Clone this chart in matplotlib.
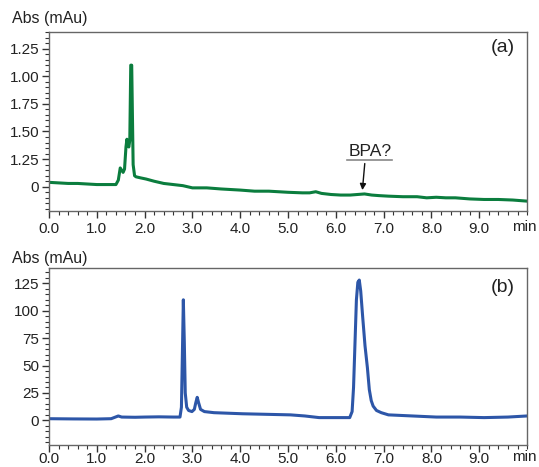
import numpy as np
import matplotlib
matplotlib.use("Agg")
import matplotlib.pyplot as plt
from matplotlib.ticker import MultipleLocator, FixedLocator, FixedFormatter

# ============================
# Data
# ============================
t_a = [0.0, 0.2, 0.4, 0.6, 0.8, 1.0, 1.2, 1.40, 1.45, 1.49, 1.52, 1.55, 1.58,
       1.61, 1.63, 1.65, 1.67, 1.69, 1.71, 1.73, 1.76, 1.79, 1.82, 1.92, 2.03,
       2.2, 2.4, 2.6, 2.8, 3.0, 3.3, 3.6, 4.0, 4.3, 4.6, 5.0, 5.3, 5.45, 5.58,
       5.7, 5.9, 6.1, 6.3, 6.45, 6.6, 6.75, 6.9, 7.1, 7.4, 7.7, 7.9, 8.1, 8.3,
       8.5, 8.8, 9.1, 9.4, 9.7, 10.0]
abs_a = [0.04, 0.035, 0.03, 0.03, 0.025, 0.02, 0.02, 0.02, 0.06, 0.17, 0.15,
         0.13, 0.16, 0.36, 0.43, 0.38, 0.36, 0.42, 1.10, 1.10, 0.20, 0.10,
         0.09, 0.08, 0.07, 0.05, 0.03, 0.02, 0.01, -0.01, -0.01, -0.02, -0.03,
         -0.04, -0.04, -0.05, -0.055, -0.055, -0.045, -0.06, -0.07, -0.075,
         -0.075, -0.07, -0.065, -0.075, -0.08, -0.085, -0.09, -0.09, -0.10,
         -0.095, -0.10, -0.10, -0.11, -0.115, -0.115, -0.12, -0.13]

t_b = [0.0, 0.5, 1.0, 1.3, 1.45, 1.52, 1.8, 2.0, 2.3, 2.6, 2.74, 2.77, 2.79,
       2.81, 2.83, 2.85, 2.88, 2.92, 2.99, 3.04, 3.07, 3.10, 3.13, 3.17, 3.25,
       3.45, 3.75, 4.05, 4.55, 5.05, 5.35, 5.65, 6.05, 6.29, 6.34, 6.37, 6.40,
       6.43, 6.46, 6.49, 6.52, 6.56, 6.61, 6.66, 6.70, 6.74, 6.78, 6.85, 6.95,
       7.1, 7.6, 8.1, 8.6, 9.1, 9.6, 9.8, 10.0]
abs_b = [1.5, 1.3, 1.2, 1.5, 4.0, 3.0, 2.8, 3.0, 3.2, 3.0, 3.0, 12, 60, 110,
         72, 25, 12, 9, 8, 10, 16, 21, 16, 10, 8, 7, 6.5, 6, 5.5, 5, 4, 2.5,
         2.5, 2.5, 8, 30, 70, 110, 126, 128, 118, 95, 68, 48, 28, 18, 13, 9,
         7, 5, 4, 3, 3, 2.5, 3, 3.5, 4]

a_ticks = [0, 0.25, 0.5, 0.75, 1.0, 1.25]
a_ticklabels = ["0", "1.25", "1.50", "1.75", "1.00", "1.25"]
b_ticks = [0, 25, 50, 75, 100, 125]
x_ticks = [0, 1, 2, 3, 4, 5, 6, 7, 8, 9]

green = "#0b7d3e"
blue = "#2d56a8"
txt = "#222222"

plt.rcParams["font.family"] = ["Liberation Sans", "DejaVu Sans"]

fig = plt.figure(figsize=(5.39, 4.67), dpi=100)
ax_a = fig.add_axes([0.0909, 0.548, 0.887, 0.3835])
ax_b = fig.add_axes([0.0909, 0.0471, 0.887, 0.379])


def style(ax, xpad):
    for s in ax.spines.values():
        s.set_color("#666666")
        s.set_linewidth(1.0)
    ax.xaxis.set_major_locator(FixedLocator(x_ticks))
    ax.xaxis.set_major_formatter(FixedFormatter([f"{v:.1f}" for v in x_ticks]))
    ax.xaxis.set_minor_locator(MultipleLocator(0.2))
    ax.set_xlim(0, 10.0)
    ax.tick_params(which="major", direction="out", length=5, width=1.0,
                   color="#333333", labelsize=11, labelcolor=txt, pad=2)
    ax.tick_params(axis="x", which="major", pad=xpad)
    ax.tick_params(which="minor", direction="out", length=3, width=0.8,
                   color="#333333")
    ax.tick_params(top=False, right=False, which="both")
    ax.annotate("min", xy=(9.95, 0), xycoords=ax.get_xaxis_transform(),
                xytext=(0, -5 - xpad * 100 / 72), textcoords="offset pixels",
                ha="center", va="top", fontsize=11, color=txt)


# ============================
# (a)
# ============================
ax_a.plot(t_a, abs_a, color=green, lw=2.2, solid_joinstyle="round")
ax_a.set_ylim(-0.22, 1.40)
ax_a.yaxis.set_major_locator(FixedLocator(a_ticks))
ax_a.yaxis.set_major_formatter(FixedFormatter(a_ticklabels))
ax_a.yaxis.set_minor_locator(MultipleLocator(0.05))
style(ax_a, 3.0)
ax_a.text(0.95, 0.916, "(a)", transform=ax_a.transAxes, ha="center",
          va="center", fontsize=14, color=txt)
ax_a.annotate("", xy=(6.55, -0.055), xytext=(6.61, 0.235),
              arrowprops=dict(arrowstyle="-|>", color="#111111", lw=1.0,
                              mutation_scale=9))
ax_a.text(6.71, 0.32, "BPA?", ha="center", va="center", fontsize=12.5,
          color=txt)
ax_a.plot([6.24, 7.18], [0.245, 0.245], color="#888888", lw=1.2)
fig.text(0.022, 0.961, "Abs (mAu)", fontsize=11.5, color=txt, va="center")

# ============================
# (b)
# ============================
ax_b.plot(t_b, abs_b, color=blue, lw=2.2, solid_joinstyle="round")
ax_b.set_ylim(-22.5, 139)
ax_b.yaxis.set_major_locator(FixedLocator(b_ticks))
ax_b.yaxis.set_minor_locator(MultipleLocator(5))
style(ax_b, 0.0)
ax_b.text(0.95, 0.889, "(b)", transform=ax_b.transAxes, ha="center",
          va="center", fontsize=14, color=txt)
fig.text(0.022, 0.4475, "Abs (mAu)", fontsize=11.5, color=txt, va="center")

fig.savefig("out.png", dpi=100)
